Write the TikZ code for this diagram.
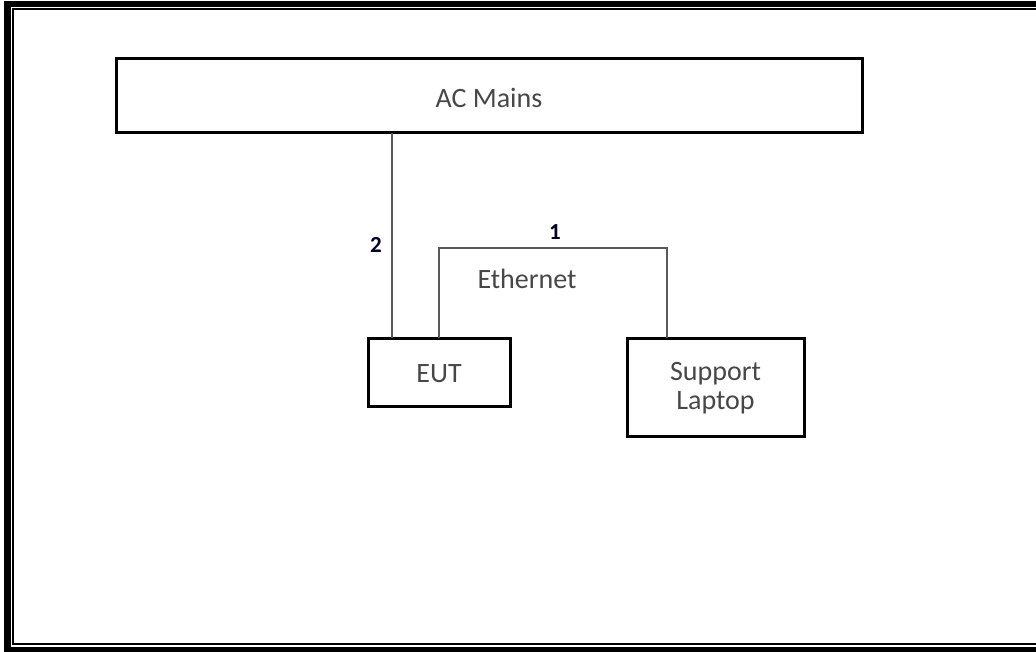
\documentclass[tikz,border=0pt]{standalone}
\usepackage{fontspec}
\setmainfont{Carlito}
\begin{document}
\begin{tikzpicture}[x=1pt,y=-1pt,
  box/.style={draw=black,line width=3pt,inner sep=0pt},
  wire/.style={draw=black!65,line width=1.6pt},
  txt/.style={text=black!72,font=\fontsize{28}{30}\selectfont,inner sep=0pt,align=center},
  num/.style={text=black!85!blue,font=\fontsize{23}{25}\selectfont\bfseries,inner sep=0pt}]
\useasboundingbox (0,0) rectangle (1036,652);
% frame
\fill[black] (4,1) rectangle (1036,7);
\fill[black] (4,1) rectangle (11,652);
\fill[black] (4,647) rectangle (1036,652);
\fill[black] (12,8) rectangle (1036,10);
\fill[black] (12,8) rectangle (14,645);
\fill[black] (12,643) rectangle (1036,645);
% boxes
\node[box,minimum width=746pt,minimum height=74pt] (ac) at (489,96) {};
\node[txt] (actxt) at (489,98) {AC Mains};
\node[box,minimum width=142pt,minimum height=68pt] (eut) at (439,372) {};
\node[txt] (euttxt) at (439,374) {EUT};
\node[box,minimum width=177pt,minimum height=98pt] (lap) at (715.5,387) {};
\node[txt] (laptxt) at (715.5,388) {Support\\[-1pt]Laptop};
% connectors
\coordinate (acb) at (392,133);
\coordinate (eutl) at (392,338);
\draw[wire] (acb) -- (eutl);
\coordinate (e1) at (439,338);
\coordinate (e2) at (439,248);
\coordinate (e3) at (667,248);
\coordinate (e4) at (667,338);
\draw[wire] (e1) -- (e2) -- (e3) -- (e4);
% labels
\node[num] (n2) at (376,245) {2};
\node[num] (n1) at (555,232) {1};
\node[txt] (eth) at (527,279) {Ethernet};
\end{tikzpicture}
\end{document}
